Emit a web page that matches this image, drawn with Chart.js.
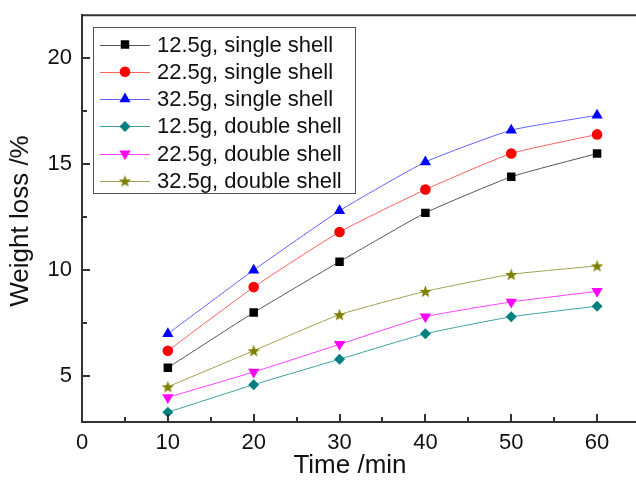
<!DOCTYPE html>
<html>
<head>
<meta charset="utf-8">
<script src="https://cdn.jsdelivr.net/npm/chart.js@4/dist/chart.umd.min.js"></script>
<style>
  html, body { margin: 0; padding: 0; background: #fff; overflow: hidden; }
  #wrap { width: 636px; height: 482px; overflow: hidden; }
</style>
</head>
<body>
<div id="wrap"><canvas id="chart" width="650" height="482"></canvas></div>
<script>
// dane z wykresu
const timeMin = [10, 20, 30, 40, 50, 60];
const single125 = [5.4, 8.0, 10.4, 12.7, 14.4, 15.5];
const single225 = [6.2, 9.2, 11.8, 13.8, 15.5, 16.4];
const single325 = [7.0, 10.0, 12.8, 15.1, 16.6, 17.3];
const double125 = [3.3, 4.6, 5.8, 7.0, 7.8, 8.3];
const double225 = [4.0, 5.2, 6.5, 7.8, 8.5, 9.0];
const double325 = [4.5, 6.2, 7.9, 9.0, 9.8, 10.2];
const seriesLabels = [
  '12.5g, single shell', '22.5g, single shell', '32.5g, single shell',
  '12.5g, double shell', '22.5g, double shell', '32.5g, double shell'
];
const xTicks = [0, 10, 20, 30, 40, 50, 60];
const xMinorTicks = [5, 15, 25, 35, 45, 55];
const yTicks = [5, 10, 15, 20];
const yMinorTicks = [7.5, 12.5, 17.5];

const FONT = '"Liberation Sans", Arial, sans-serif';

// gwiazdka jako obrazek (pointStyle)
function makeStar(color, r) {
  const c = document.createElement('canvas');
  const s = Math.ceil(r * 2 + 2);
  c.width = s; c.height = s;
  const ctx = c.getContext('2d');
  ctx.fillStyle = color;
  ctx.beginPath();
  for (let i = 0; i < 10; i++) {
    const rad = i % 2 === 0 ? r : r * 0.42;
    const a = -Math.PI / 2 + i * Math.PI / 5;
    const px = s / 2 + rad * Math.cos(a);
    const py = s / 2 + rad * Math.sin(a) + 0.6;
    if (i === 0) ctx.moveTo(px, py); else ctx.lineTo(px, py);
  }
  ctx.closePath();
  ctx.fill();
  return c;
}
const starImg = makeStar('#808000', 6.5);

function toXY(arr) {
  return arr.map((v, i) => ({ x: timeMin[i], y: v }));
}

const styles = [
  { color: '#000000', line: '#555555', pointStyle: 'rect', radius: 6, rotation: 0 },
  { color: '#ff0000', line: '#ff6060', pointStyle: 'circle', radius: 5.3, rotation: 0 },
  { color: '#0000ff', line: '#6060ff', pointStyle: 'triangle', radius: 6.5, rotation: 0 },
  { color: '#008080', line: '#40a0a0', pointStyle: 'rectRot', radius: 5.5, rotation: 0 },
  { color: '#ff00ff', line: '#ff40ff', pointStyle: 'triangle', radius: 6.5, rotation: 180 },
  { color: '#808000', line: '#a0a050', pointStyle: starImg, radius: 6.5, rotation: 0 }
];
const seriesData = [single125, single225, single325, double125, double225, double325];

const datasets = seriesData.map((d, i) => ({
  label: seriesLabels[i],
  data: toXY(d),
  borderColor: styles[i].line,
  borderWidth: 1,
  backgroundColor: styles[i].color,
  pointBackgroundColor: styles[i].color,
  pointBorderColor: styles[i].color,
  pointBorderWidth: 0,
  pointStyle: styles[i].pointStyle,
  pointRadius: styles[i].radius,
  pointHoverRadius: styles[i].radius,
  pointRotation: styles[i].rotation,
  tension: 0.15,
  fill: false
}));

function tick(ctx, x1, y1, x2, y2) {
  ctx.beginPath();
  ctx.moveTo(x1, y1);
  ctx.lineTo(x2, y2);
  ctx.stroke();
}

// ramka, ticki do środka, legenda i tytuły osi
const decorPlugin = {
  id: 'decor',
  afterDraw(chart) {
    const ctx = chart.ctx;
    const xs = chart.scales.x, ys = chart.scales.y;
    const area = chart.chartArea;
    ctx.save();
    ctx.strokeStyle = '#333333';
    // górna linia ramki
    ctx.lineWidth = 2;
    tick(ctx, area.left - 1, area.top, area.right + 2, area.top);

    // ticki
    ctx.lineWidth = 2;
    xTicks.forEach(v => {
      const px = Math.round(xs.getPixelForValue(v));
      tick(ctx, px, area.bottom, px, area.bottom - 8);
    });
    xMinorTicks.forEach(v => {
      const px = Math.round(xs.getPixelForValue(v));
      tick(ctx, px, area.bottom, px, area.bottom - 5);
    });
    yTicks.forEach(v => {
      const py = Math.round(ys.getPixelForValue(v));
      tick(ctx, area.left, py, area.left + 8, py);
    });
    yMinorTicks.forEach(v => {
      const py = Math.round(ys.getPixelForValue(v));
      tick(ctx, area.left, py, area.left + 5, py);
    });

    // legenda
    const bx = 93, by = 27, bw = 262, bh = 166;
    ctx.fillStyle = '#fff';
    ctx.fillRect(bx, by, bw, bh);
    ctx.strokeStyle = '#555';
    ctx.lineWidth = 1;
    ctx.strokeRect(bx + 0.5, by + 0.5, bw, bh);
    ctx.font = '22px ' + FONT;
    ctx.textBaseline = 'middle';
    ctx.textAlign = 'left';
    chart.data.datasets.forEach((ds, i) => {
      const cy = 44.5 + i * 27.3;
      ctx.strokeStyle = ds.borderColor;
      ctx.lineWidth = 1;
      tick(ctx, 100, Math.round(cy) + 0.5, 150, Math.round(cy) + 0.5);
      ctx.fillStyle = ds.pointBackgroundColor;
      ctx.strokeStyle = ds.pointBorderColor;
      Chart.helpers.drawPoint(ctx, {
        pointStyle: ds.pointStyle,
        radius: ds.pointRadius,
        rotation: ds.pointRotation,
        borderWidth: 0
      }, 125, cy);
      ctx.fillStyle = '#111';
      ctx.fillText(ds.label, 157, cy + 1);
    });

    // tytuły osi
    ctx.fillStyle = '#111';
    ctx.font = '26px ' + FONT;
    ctx.textAlign = 'center';
    ctx.textBaseline = 'middle';
    ctx.fillText('Time /min', 350, 466);
    ctx.translate(21, 221);
    ctx.rotate(-Math.PI / 2);
    ctx.fillText('Weight loss /%', 0, 0);
    ctx.restore();
  }
};

new Chart(document.getElementById('chart'), {
  type: 'line',
  data: { datasets },
  options: {
    responsive: false,
    animation: false,
    devicePixelRatio: 1,
    layout: { padding: { top: 4, right: 10, left: 0, bottom: 0 } },
    plugins: { legend: { display: false }, tooltip: { enabled: false } },
    scales: {
      x: {
        type: 'linear',
        min: 0,
        max: 65,
        grid: { display: false },
        border: { display: true, color: '#333', width: 2 },
        afterBuildTicks: s => { s.ticks = xTicks.map(v => ({ value: v })); },
        afterFit: s => { s.height = 60; },
        ticks: { padding: 0, color: '#111', font: { family: FONT, size: 22 }, maxRotation: 0 }
      },
      y: {
        type: 'linear',
        min: 2.84,
        max: 22.02,
        grid: { display: false },
        border: { display: true, color: '#333', width: 2 },
        afterBuildTicks: s => { s.ticks = yTicks.map(v => ({ value: v })); },
        afterFit: s => { s.width = 82; },
        ticks: { padding: 2, color: '#111', font: { family: FONT, size: 22 } }
      }
    }
  },
  plugins: [decorPlugin]
});
</script>
</body>
</html>
